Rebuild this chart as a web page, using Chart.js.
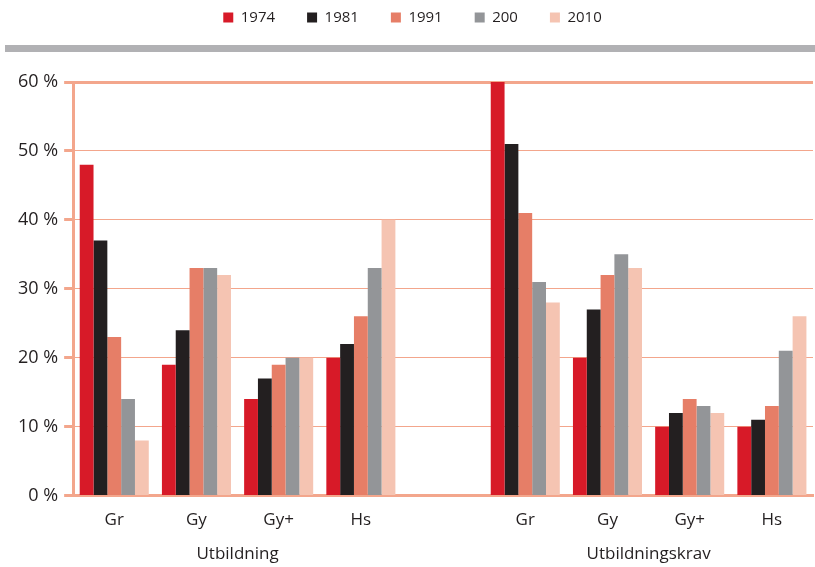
<!DOCTYPE html>
<html>
<head>
<meta charset="utf-8">
<script src="https://cdn.jsdelivr.net/npm/chart.js@4/dist/chart.umd.min.js"></script>
<style>
  html, body { margin: 0; padding: 0; background: #fff; }
  #wrap { width: 815px; height: 567px; position: relative; }
</style>
</head>
<body>
<div id="wrap"><canvas id="c" width="815" height="567"></canvas></div>
<script>
// Categories: two groups of four, separated by an empty slot
const categories = ['Gr', 'Gy', 'Gy+', 'Hs', '', 'Gr', 'Gy', 'Gy+', 'Hs'];
const groupNames = ['Utbildning', 'Utbildningskrav'];
const seriesNames = ['1974', '1981', '1991', '200', '2010'];

// Shares in percent, per year
const v1974 = [48, 19, 14, 20, null, 60, 20, 10, 10];
const v1981 = [37, 24, 17, 22, null, 51, 27, 12, 11];
const v1991 = [23, 33, 19, 26, null, 41, 32, 14, 13];
const v2000 = [14, 33, 20, 33, null, 31, 35, 13, 21];
const v2010 = [8, 32, 20, 40, null, 28, 33, 12, 26];

const yTicks = [0, 10, 20, 30, 40, 50, 60];

const colors = ['#d71a28', '#231f20', '#e67e67', '#939598', '#f5c4b2'];
const lineColor = '#f3a68c';
const fontFamily = '"Open Sans", "DejaVu Sans", sans-serif';

const values = [v1974, v1981, v1991, v2000, v2010];

// Extra room under the legend for the grey band
const legendSpacing = {
  id: 'legendSpacing',
  beforeInit(chart) {
    const origFit = chart.legend.fit;
    chart.legend.fit = function () {
      origFit.bind(chart.legend)();
      this.height += 47;
    };
  }
};

// Grey band under the legend
const greyBand = {
  id: 'greyBand',
  afterDraw(chart) {
    const ctx = chart.ctx;
    ctx.save();
    ctx.fillStyle = '#b1b1b4';
    ctx.fillRect(5, 45, chart.width - 5, 7);
    ctx.restore();
  }
};

// Group titles centred under each block of categories
const groupLabels = {
  id: 'groupLabels',
  afterDraw(chart) {
    const x = chart.scales.x;
    const ctx = chart.ctx;
    const blocks = [[0, 3], [5, 8]];
    ctx.save();
    ctx.fillStyle = '#231f20';
    ctx.font = '17px ' + fontFamily;
    ctx.textAlign = 'center';
    ctx.textBaseline = 'middle';
    blocks.forEach((b, i) => {
      const cx = (x.getPixelForValue(b[0]) + x.getPixelForValue(b[1])) / 2;
      ctx.fillText(groupNames[i], cx, x.bottom + 18);
    });
    ctx.restore();
  }
};

new Chart(document.getElementById('c'), {
  type: 'bar',
  data: {
    labels: categories,
    datasets: seriesNames.map((name, i) => ({
      label: name,
      data: values[i],
      backgroundColor: colors[i],
      borderWidth: 0,
      categoryPercentage: 0.84,
      barPercentage: 1.0
    }))
  },
  options: {
    responsive: false,
    animation: false,
    devicePixelRatio: 1,
    layout: { padding: { left: 12, right: 2, top: -22, bottom: 31 } },
    plugins: {
      legend: {
        position: 'top',
        labels: {
          boxWidth: 10,
          boxHeight: 10,
          padding: 32,
          color: '#231f20',
          font: { family: fontFamily, size: 15 }
        }
      },
      tooltip: { enabled: false }
    },
    scales: {
      x: {
        grid: { display: false },
        border: { display: true, color: lineColor, width: 3 },
        ticks: {
          color: '#231f20',
          padding: 6,
          font: { family: fontFamily, size: 17 }
        }
      },
      y: {
        min: 0,
        max: 60,
        afterBuildTicks(scale) {
          scale.ticks = yTicks.map(v => ({ value: v }));
        },
        grid: {
          color: lineColor,
          lineWidth: ctx => (ctx.tick && ctx.tick.value === 60) ? 3 : 1,
          drawTicks: true,
          tickLength: 9,
          tickWidth: 3,
          tickColor: lineColor
        },
        border: { display: true, color: lineColor, width: 3 },
        ticks: {
          color: '#231f20',
          padding: 6,
          font: { family: fontFamily, size: 18 },
          callback: v => v + ' %'
        }
      }
    }
  },
  plugins: [legendSpacing, greyBand, groupLabels]
});
</script>
</body>
</html>
